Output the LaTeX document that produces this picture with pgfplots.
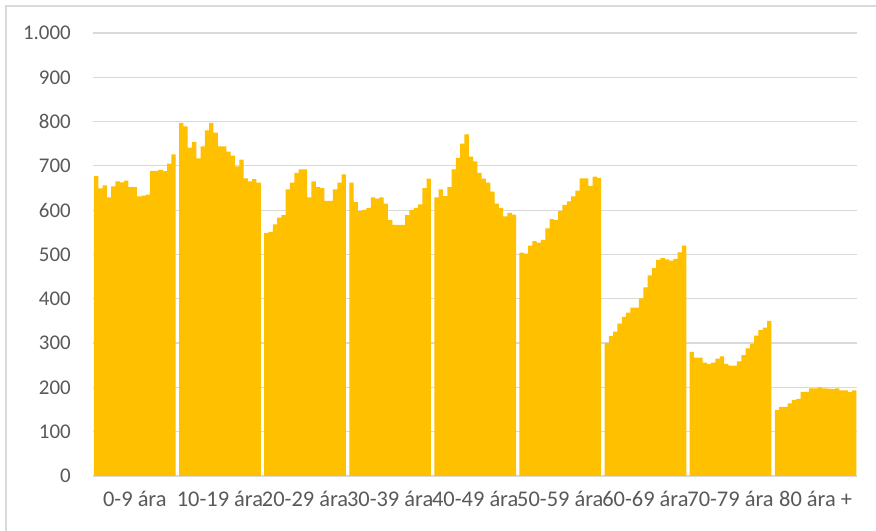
\documentclass[border=0pt]{standalone}
\usepackage{pgfplots}
\usepackage{pgfplotstable}
\pgfplotsset{compat=1.18}
\usepackage{fontspec}
\setmainfont{Carlito}
\definecolor{barc}{HTML}{FFC000}
\definecolor{gridc}{HTML}{D9D9D9}
\definecolor{labc}{HTML}{595959}
\pgfplotstableread{
g1 g2 g3 g4 g5 g6 g7 g8 g9
677 797 548 662 629 504 300 280 149
649 789 551 618 647 502 316 267 156
656 741 568 598 632 520 326 267 156
629 754 583 601 652 530 344 256 164
654 717 589 605 692 527 359 253 172
665 744 647 629 718 533 369 256 174
663 780 662 626 750 559 380 265 190
667 797 684 629 771 580 380 270 190
652 775 692 615 721 578 401 253 198
652 744 692 578 710 598 426 249 198
631 744 629 567 684 612 453 249 200
633 732 665 567 671 620 469 259 198
635 723 652 567 662 631 488 273 197
689 699 650 589 642 644 492 288 196
689 714 621 601 615 672 489 298 198
691 672 621 605 605 672 486 317 193
688 665 647 613 586 655 490 330 193
705 670 662 650 594 676 505 335 190
726 662 681 671 590 673 520 350 193
}\agedata
\begin{document}
\begin{tikzpicture}
\useasboundingbox (0,0) rectangle (876bp,531bp);
\fill[white] (0,0) rectangle (876bp,531bp);
\draw[gridc, line width=1.5bp] (6bp,0) -- (6bp,525bp) -- (876bp,525bp);
\begin{axis}[
  at={(93bp,55bp)}, anchor=south west,
  scale only axis, width=764bp, height=443bp,
  xmin=-0.73, xmax=176.95, ymin=0, ymax=1000,
  ytick={0,100,...,1000},
  xtick={9,28.79,48.58,68.37,88.16,107.95,127.74,147.53,167.32},
  xticklabels={0-9 ára,10-19 ára,20-29 ára,30-39 ára,40-49 ára,50-59 ára,60-69 ára,70-79 ára,80 ára +},
  ymajorgrids, grid style={draw=gridc, line width=1.2bp},
  major tick length=0pt,
  axis x line*=bottom, axis y line*=left,
  y axis line style={draw=none},
  x axis line style={draw=gridc, line width=1.2bp},
  tick label style={font=\fontsize{21}{25}\selectfont, text=labc},
  yticklabel style={anchor=east, inner sep=0pt, xshift=-22bp},
  xticklabel style={font=\fontsize{22.5}{26}\selectfont, anchor=base, inner sep=0pt, yshift=-31bp},
  /pgf/number format/.cd, 1000 sep={.}, assume math mode=true,
]
\addplot[ybar, bar width=1, bar shift=0pt, fill=barc, draw=none] table[x expr=\coordindex+0*19.79, y=g1] {\agedata};
\addplot[ybar, bar width=1, bar shift=0pt, fill=barc, draw=none] table[x expr=\coordindex+1*19.79, y=g2] {\agedata};
\addplot[ybar, bar width=1, bar shift=0pt, fill=barc, draw=none] table[x expr=\coordindex+2*19.79, y=g3] {\agedata};
\addplot[ybar, bar width=1, bar shift=0pt, fill=barc, draw=none] table[x expr=\coordindex+3*19.79, y=g4] {\agedata};
\addplot[ybar, bar width=1, bar shift=0pt, fill=barc, draw=none] table[x expr=\coordindex+4*19.79, y=g5] {\agedata};
\addplot[ybar, bar width=1, bar shift=0pt, fill=barc, draw=none] table[x expr=\coordindex+5*19.79, y=g6] {\agedata};
\addplot[ybar, bar width=1, bar shift=0pt, fill=barc, draw=none] table[x expr=\coordindex+6*19.79, y=g7] {\agedata};
\addplot[ybar, bar width=1, bar shift=0pt, fill=barc, draw=none] table[x expr=\coordindex+7*19.79, y=g8] {\agedata};
\addplot[ybar, bar width=1, bar shift=0pt, fill=barc, draw=none] table[x expr=\coordindex+8*19.79, y=g9] {\agedata};
\end{axis}
\end{tikzpicture}
\end{document}
